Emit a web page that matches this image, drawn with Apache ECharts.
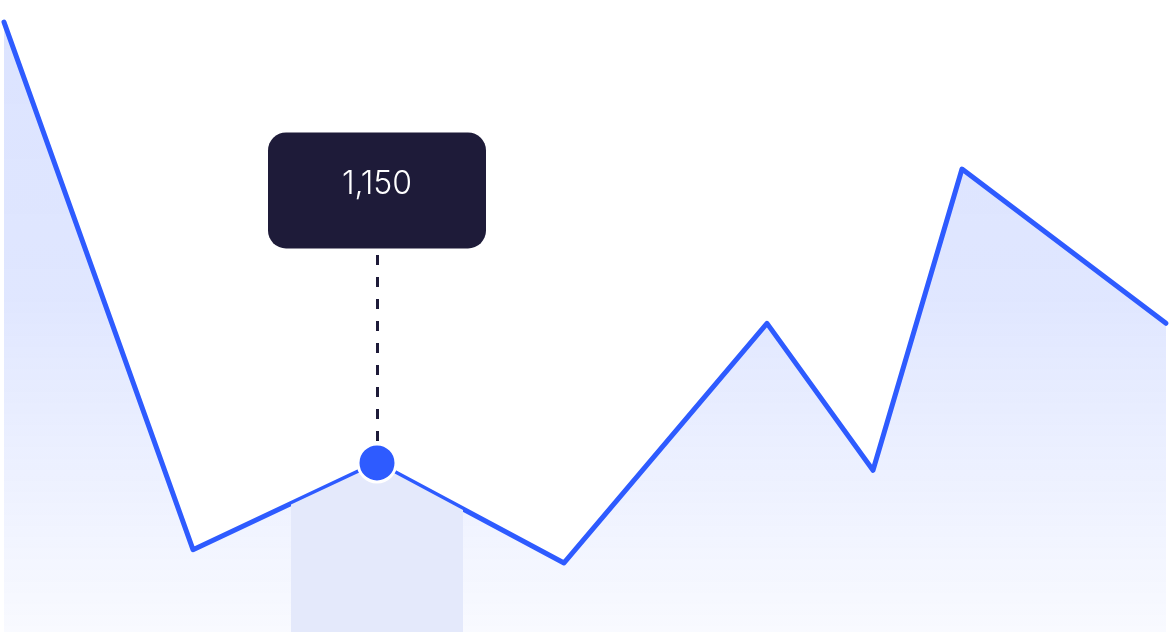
<!DOCTYPE html>
<html>
<head>
<meta charset="utf-8">
<script src="https://cdn.jsdelivr.net/npm/echarts@6/dist/echarts.min.js"></script>
<style>
  html, body { margin: 0; padding: 0; background: #fff; }
  #chart { width: 1170px; height: 632px; }
</style>
</head>
<body>
<div id="chart"></div>
<script>
// x positions of the samples (uneven spacing) and their values
var xValues = [4, 193, 377, 564, 767, 873, 962, 1166];
var yValues = [4150, 560, 1150, 470, 2100, 1100, 3150, 2100];
var activeIndex = 2;          // highlighted point (shown in the callout)
var bandRange = [292, 462];   // shaded column around the active point
var calloutTop = 2640;        // where the dashed guide ends

var points = xValues.map(function (x, i) { return [x, yValues[i]]; });

var lineColor = '#2e5bff';
var darkColor = '#1e1b39';

var chart = echarts.init(document.getElementById('chart'));

var option = {
  animation: false,
  grid: [
    { left: 0, right: 0, top: 0, bottom: 0 },
    { left: bandRange[0], width: bandRange[1] - bandRange[0], top: 0, bottom: 0 }
  ],
  xAxis: [
    { type: 'value', gridIndex: 0, min: 0, max: 1170, show: false },
    { type: 'value', gridIndex: 1, min: bandRange[0], max: bandRange[1], show: false }
  ],
  yAxis: [
    { type: 'value', gridIndex: 0, min: 0, max: 4300, show: false },
    { type: 'value', gridIndex: 1, min: 0, max: 4300, show: false }
  ],
  series: [
    {
      name: 'main',
      type: 'line',
      xAxisIndex: 0,
      yAxisIndex: 0,
      z: 2,
      data: points,
      symbol: 'none',
      lineStyle: { color: lineColor, width: 5, cap: 'round', join: 'round' },
      areaStyle: {
        opacity: 1,
        color: new echarts.graphic.LinearGradient(0, 0, 0, 1, [
          { offset: 0, color: 'rgba(46,91,255,0.17)' },
          { offset: 0.45, color: 'rgba(46,91,255,0.15)' },
          { offset: 1, color: 'rgba(46,91,255,0.03)' }
        ])
      },
      markLine: {
        silent: true,
        z: 2,
        symbol: 'none',
        label: { show: false },
        lineStyle: { color: darkColor, width: 3, type: [10, 12], cap: 'butt' },
        data: [[
          { coord: [xValues[activeIndex], yValues[activeIndex]] },
          { coord: [xValues[activeIndex], calloutTop] }
        ]]
      }
    },
    {
      name: 'band',
      type: 'line',
      xAxisIndex: 1,
      yAxisIndex: 1,
      z: 3,
      data: points,
      clip: true,
      showSymbol: true,
      symbol: function (val, params) { return params.dataIndex === activeIndex ? 'circle' : 'none'; },
      symbolSize: 38,
      itemStyle: { color: lineColor, borderColor: '#fff', borderWidth: 3 },
      lineStyle: { color: lineColor, width: 2 },
      areaStyle: { color: '#e4e9fb', opacity: 1 },
      label: {
        show: true,
        position: 'top',
        distance: 194,
        formatter: function (p) {
          if (p.dataIndex !== activeIndex) return '';
          return p.value[1].toLocaleString('en-US');
        },
        backgroundColor: darkColor,
        borderRadius: 18,
        width: 218,
        height: 104,
        lineHeight: 104,
        padding: [0, 0, 12, 0],
        align: 'center',
        color: '#ffffff',
        fontFamily: 'Inter',
        fontWeight: 300,
        fontSize: 32
      }
    }
  ]
};

chart.setOption(option);
</script>
</body>
</html>
